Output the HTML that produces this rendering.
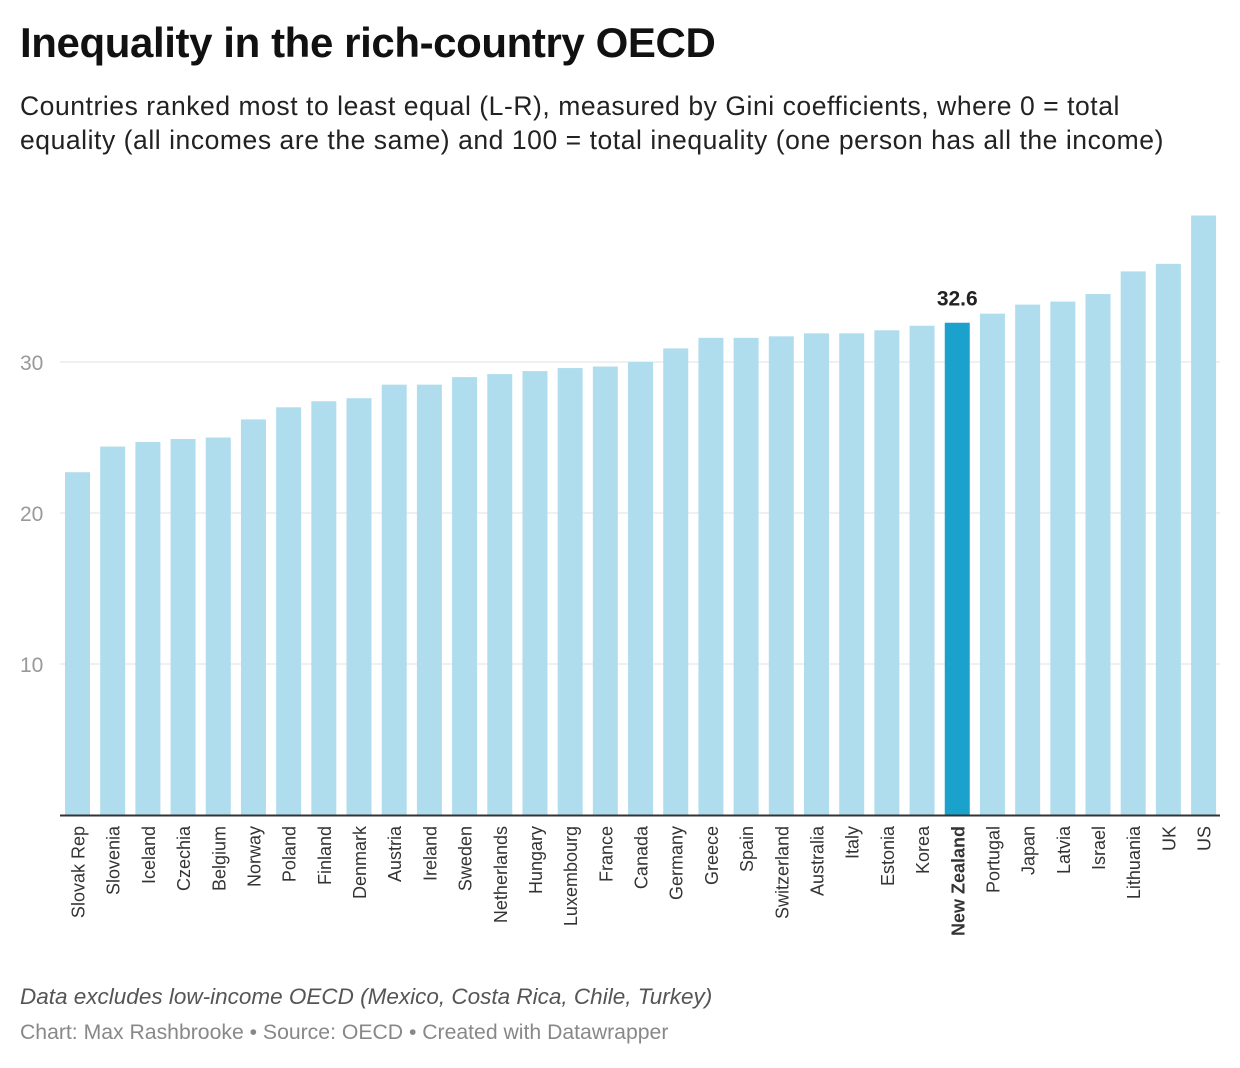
<!DOCTYPE html>
<html><head><meta charset="utf-8"><style>
body{margin:0;width:1240px;height:1068px;background:#fff;font-family:"Liberation Sans",sans-serif;overflow:hidden;position:relative}
#title{position:absolute;left:20px;top:19px;font-size:42px;font-weight:bold;color:#111;letter-spacing:-0.4px}
#sub{position:absolute;left:20px;top:89px;font-size:26.5px;letter-spacing:0.55px;line-height:34px;color:#222;width:1150px}
#note{position:absolute;left:20px;top:984px;font-size:22.5px;font-style:italic;color:#555}
#cred{position:absolute;left:20px;top:1021px;font-size:21.2px;color:#888}
svg{position:absolute;left:0;top:0}
</style></head><body>
<div id="title">Inequality in the rich-country OECD</div>
<div id="sub">Countries ranked most to least equal (L-R), measured by Gini coefficients, where 0 = total equality (all incomes are the same) and 100 = total inequality (one person has all the income)</div>
<svg id="chart" width="1240" height="1068"></svg>
<div id="note">Data excludes low-income OECD (Mexico, Costa Rica, Chile, Turkey)</div>
<div id="cred">Chart: Max Rashbrooke • Source: OECD • Created with Datawrapper</div>
<script>
const countries=["Slovak Rep","Slovenia","Iceland","Czechia","Belgium","Norway","Poland","Finland","Denmark","Austria","Ireland","Sweden","Netherlands","Hungary","Luxembourg","France","Canada","Germany","Greece","Spain","Switzerland","Australia","Italy","Estonia","Korea","New Zealand","Portugal","Japan","Latvia","Israel","Lithuania","UK","US"];
const gini=[22.7,24.4,24.7,24.9,25.0,26.2,27.0,27.4,27.6,28.5,28.5,29.0,29.2,29.4,29.6,29.7,30.0,30.9,31.6,31.6,31.7,31.9,31.9,32.1,32.4,32.6,33.2,33.8,34.0,34.5,36.0,36.5,39.7];
const ticks=[10,20,30];
const highlight="New Zealand";
const NS="http://www.w3.org/2000/svg";
const svg=document.getElementById('chart');
const y=v=>815-v*15.1;
const x0=65,pitch=35.19,bw=25;
const xs=i=>x0+i*pitch;
function mk(t,a){const e=document.createElementNS(NS,t);for(const k in a)e.setAttribute(k,a[k]);svg.appendChild(e);return e;}
ticks.forEach(t=>{
 const l=mk('line',{x1:60,x2:1220,y1:y(t),y2:y(t),stroke:'#e2e2e2','stroke-width':1});
 
 
 const tx=mk('text',{x:20,y:y(t)+8,'font-size':21,fill:'#999','font-family':'Liberation Sans, sans-serif'});
 tx.textContent=t;
 
 
});
countries.forEach((c,i)=>{
 const hi=c===highlight;
 const r=mk('rect',{x:xs(i),y:y(gini[i]),width:bw,height:y(0)-y(gini[i]),fill:hi?'#1aa1cc':'#b0dded'});
 
 
 const cx=xs(i)+bw/2+7;
 const t=mk('text',{x:cx,y:826,transform:`rotate(-90 ${cx} 826)`,'text-anchor':'end','font-size':18,fill:'#333','font-weight':hi?'bold':'normal','font-family':'Liberation Sans, sans-serif'});
 t.textContent=c;
 
 
 if(hi){
  const v=mk('text',{x:xs(i)+bw/2,y:y(gini[i])-17,'text-anchor':'middle','font-size':21,'font-weight':'bold',fill:'#222','font-family':'Liberation Sans, sans-serif'});
  v.textContent=gini[i].toFixed(1);
  
  
 }
});
const base=mk('line',{x1:60,x2:1220,y1:y(0)+0.5,y2:y(0)+0.5,stroke:'#333','stroke-width':2});


</script>
</body></html>
